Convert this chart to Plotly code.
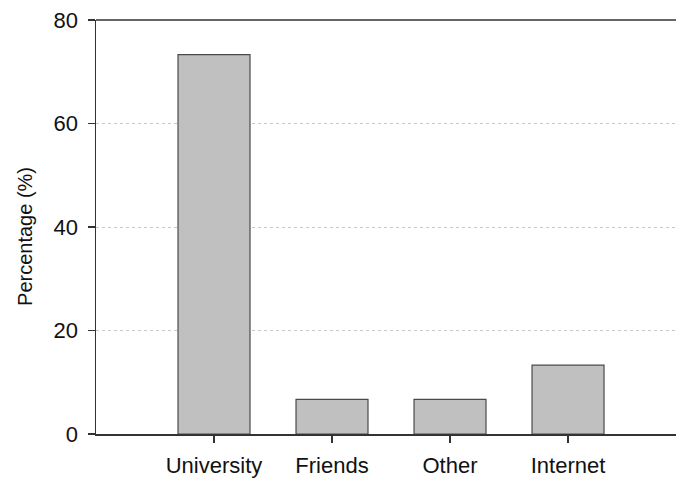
import plotly.graph_objects as go

categories = ["University", "Friends", "Other", "Internet"]
percentages = [73.3, 6.7, 6.7, 13.3]
y_ticks = [0, 20, 40, 60, 80]
y_title = "Percentage (%)"

fig = go.Figure()
fig.add_trace(go.Bar(
    x=list(range(len(categories))),
    y=percentages,
    width=0.61,
    marker=dict(color="#c0c0c0", line=dict(color="#4a4a4a", width=1.2)),
))

fig.update_layout(
    width=676, height=478,
    margin=dict(l=96, r=0, t=20, b=44),
    paper_bgcolor="white", plot_bgcolor="white",
    showlegend=False,
    hovermode=False,
    font=dict(family="Liberation Sans, Arial, sans-serif", size=22, color="#111"),
    xaxis=dict(
        range=[-1, 3.915],
        tickmode="array",
        tickvals=list(range(len(categories))),
        ticktext=categories,
        ticks="outside", ticklen=7, tickcolor="#333", tickwidth=1.5,
        ticklabelstandoff=4,
        showline=True, linecolor="#333", linewidth=1.5, mirror=False,
        showgrid=False, zeroline=False,
        tickfont=dict(size=22),
    ),
    yaxis=dict(
        range=[0, 80],
        tickmode="array",
        tickvals=y_ticks,
        ticks="outside", ticklen=7, tickcolor="#333", tickwidth=1.5,
        ticklabelstandoff=5,
        showline=True, linecolor="#333", linewidth=1.5,
        showgrid=True, gridcolor="#c8c8c8", griddash="dot", gridwidth=1,
        zeroline=False,
        tickfont=dict(size=22),
    ),
    shapes=[dict(
        type="line", xref="paper", yref="paper",
        x0=0, x1=1, y0=1, y1=1,
        line=dict(color="#333", width=1.5),
    )],
    annotations=[dict(
        text=y_title, textangle=-90, showarrow=False,
        xref="paper", yref="paper", x=-0.1224, y=0.476,
        xanchor="center", yanchor="middle",
        font=dict(size=20, color="#111"),
    )],
)

fig.write_html(
    "out.html",
    config={"staticPlot": True, "displayModeBar": False},
    post_script="document.body.style.margin='0';document.body.style.overflow='hidden';",
)
